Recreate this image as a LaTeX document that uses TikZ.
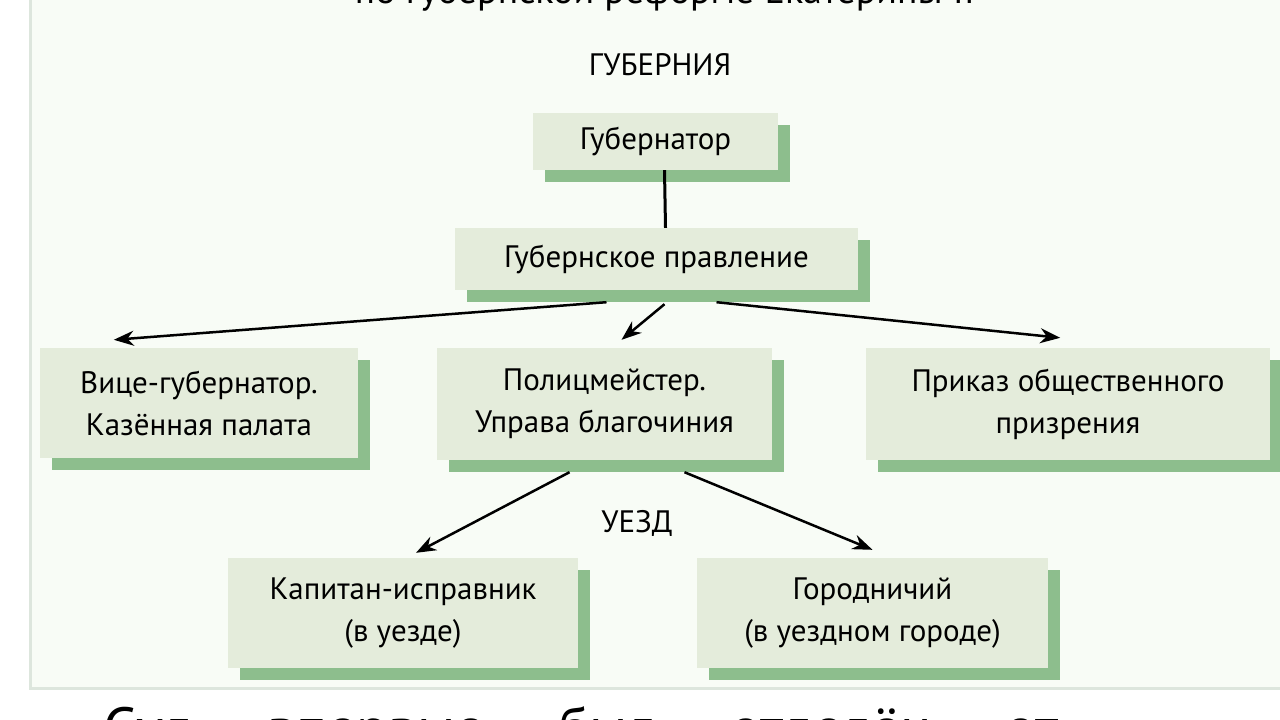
\documentclass[tikz,border=0pt]{standalone}
\usepackage{fontspec}
\setmainfont{PT Sans}
\usetikzlibrary{arrows.meta}
\definecolor{bg}{HTML}{F8FCF6}
\definecolor{boxf}{HTML}{E4ECDB}
\definecolor{shad}{HTML}{8DBE8D}
\definecolor{frame}{HTML}{DDE6DD}
\tikzset{x=1pt,y=-1pt,
 bx/.style={fill=boxf,draw=none,align=center,font=\fontsize{31}{42}\selectfont,inner sep=0pt},
 arr/.style={-{Stealth[length=20pt,width=15pt]},line width=2.5pt},
 lbl/.style={font=\fontsize{31}{36}\selectfont}}
\newcommand{\shbox}[6]{% name, x1,y1,x2,y2, text
 \fill[shad] (#2+12,#3+12) rectangle (#4+12,#5+12);
 \node[bx,minimum width=#4-#2,minimum height=#5-#3] (#1) at ({(#2+#4)/2},{(#3+#5)/2}) {#6};}
\begin{document}
\begin{tikzpicture}
\useasboundingbox (0,0) rectangle (1280,720);
\begin{scope}
\clip (0,0) rectangle (1280,720);
\fill[white] (0,0) rectangle (1280,720);
\fill[bg] (30,-5) rectangle (1290,688);
\draw[frame,line width=3pt] (30,-5) -- (30,688) -- (1290,688);
\node[lbl,font=\fontsize{38}{44}\selectfont] (title) at (665,-6) {по губернской реформе Екатерины II};
\node[lbl] (gub) at (660,65) {ГУБЕРНИЯ};
\node[lbl] (uezd) at (637,523) {УЕЗД};
\shbox{g}{533}{113}{778}{170}{Губернатор}
\shbox{p}{455}{228}{858}{290}{Губернское правление}
\shbox{v}{40}{348}{358}{458}{Вице-губернатор.\\Казённая палата}
\shbox{m}{437}{348}{772}{460}{Полицмейстер.\\Управа благочиния}
\shbox{o}{866}{348}{1270}{460}{Приказ общественного\\призрения}
\shbox{k}{228}{558}{578}{668}{Капитан-исправник\\(в уезде)}
\shbox{c}{697}{558}{1048}{668}{Городничий\\(в уездном городе)}
\draw[line width=3pt] ([xshift=9pt]g.south) -- ([xshift=9pt]p.north);
\draw[arr] ([xshift=-50pt,yshift=-12pt]p.south) -- ([xshift=74pt,yshift=8pt]v.north west);
\draw[arr] ([xshift=8pt,yshift=-14pt]p.south) -- ([xshift=17pt,yshift=8pt]m.north);
\draw[arr] ([xshift=60pt,yshift=-12pt]p.south) -- ([xshift=-210pt,yshift=10pt]o.north east);
\draw[arr] ([xshift=-35pt,yshift=-12pt]m.south) -- ([xshift=13pt,yshift=5pt]k.north);
\draw[arr] ([xshift=80pt,yshift=-12pt]m.south) -- ([xshift=0pt,yshift=8pt]c.north);
\node[font=\fontsize{58}{60}\selectfont,anchor=base west] (bot) at (100,748) {Суд\quad\ впервые\quad\ был\quad\ отделён\quad\ от};
\end{scope}
\end{tikzpicture}
\end{document}
